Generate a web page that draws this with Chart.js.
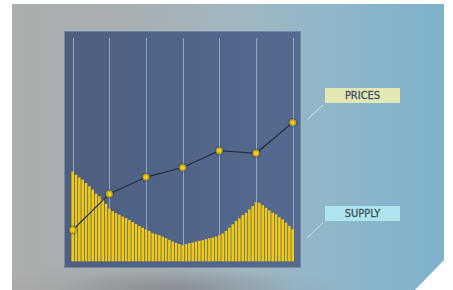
<!DOCTYPE html>
<html>
<head>
<meta charset="utf-8">
<script src="https://cdn.jsdelivr.net/npm/chart.js@4/dist/chart.umd.min.js"></script>
<style>
  html, body { margin:0; padding:0; background:#ffffff; }
  #stage { position:relative; width:453px; height:290px; overflow:hidden; }
  #bg { position:absolute; left:12px; top:4px; width:432px; height:286px;
        clip-path: polygon(0 0, 100% 0, 100% 256px, 403px 286px, 0 286px);
        background:
          radial-gradient(ellipse 120px 20px at 165px 284px, rgba(105,105,115,0.38), rgba(105,105,115,0) 100%),
          radial-gradient(ellipse 200px 34px at 150px 292px, rgba(125,120,120,0.28), rgba(125,120,120,0) 100%),
          linear-gradient(to right, #abadae 0%, #a7afb2 28%, #a2b7c1 52%, #8db6ca 76%, #7db2cb 100%);
  }
  #panel { position:absolute; left:64px; top:31px; width:237px; height:237px; box-sizing:border-box;
           border:1px solid rgba(150,170,200,0.5);
           background: linear-gradient(to right, #4e5f80 0%, #52658a 60%, #566a90 100%); }
  #chartWrap { position:absolute; left:64px; top:31px; width:237px; height:237px; }
  .tag { position:absolute; left:325px; width:75px; height:15px; line-height:15px; text-align:center;
         font-family:"DejaVu Sans Condensed","DejaVu Sans",sans-serif; font-size:11px; color:#3f5064;
         -webkit-text-stroke: 0.3px #3f5064; }
  #tagPrices { top:88px; background:#e3e7b3; }
  #tagSupply { top:206px; background:#b0e4ec; }
  svg { position:absolute; left:0; top:0; }
</style>
</head>
<body>
<div id="stage">
  <div id="bg"></div>
  <div id="panel"></div>
  <div id="chartWrap"><canvas id="c" width="237" height="237"></canvas></div>
  <svg width="453" height="290">
    <line x1="323" y1="105" x2="307" y2="120" stroke="rgba(215,232,240,0.85)" stroke-width="1"/>
    <line x1="323" y1="223" x2="307" y2="238" stroke="rgba(215,232,240,0.85)" stroke-width="1"/>
  </svg>
  <div class="tag" id="tagPrices">PRICES</div>
  <div class="tag" id="tagSupply">SUPPLY</div>
</div>
<script>
// Supply: 67 thin bars (11 per period)
const supply = [
  90, 86.7, 84, 81.7, 78.3, 75, 71.7, 67.7, 65, 61.7, 57.3,
  52.5,
  50, 48, 46.5, 44.5, 43, 41, 39, 37, 35, 33.3,
  31.5,
  30, 27.7, 26.7, 25.7, 24.3, 22.7, 21, 19.3, 18, 16.7,
  15.7,
  16.7, 17.7, 18.3, 19.3, 20, 20.7, 21.7, 22.7, 23.3, 24.3,
  25.7,
  27.3, 30, 33.3, 36.7, 40, 42.7, 46, 48.3, 51.7, 55, 59,
  58.3, 56, 53.3, 50.7, 48.3, 46.7, 44, 41.7, 38.3, 35, 31.7
];
// Prices: one point per period
const prices = [31.3, 67.7, 84.7, 94.3, 111.3, 108.7, 139.7];
const periodLabels = ['P1', 'P2', 'P3', 'P4', 'P5', 'P6', 'P7'];
const barsPerPeriod = 11;

const labels = supply.map((_, i) => i % barsPerPeriod === 0 ? periodLabels[i / barsPerPeriod] : '');
const priceData = supply.map((_, i) => i % barsPerPeriod === 0 ? prices[i / barsPerPeriod] : null);

const periodGrid = {
  id: 'periodGrid',
  beforeDatasetsDraw(chart) {
    const { ctx, chartArea, scales } = chart;
    ctx.save();
    ctx.strokeStyle = 'rgba(165,185,220,0.75)';
    ctx.lineWidth = 1;
    periodLabels.forEach((_, p) => {
      const x = Math.round(scales.x.getPixelForValue(p * barsPerPeriod)) + 0.5;
      ctx.beginPath();
      ctx.moveTo(x, chartArea.top);
      ctx.lineTo(x, chartArea.bottom);
      ctx.stroke();
    });
    ctx.restore();
  }
};

new Chart(document.getElementById('c'), {
  data: {
    labels: labels,
    datasets: [
      {
        type: 'line', label: 'Prices', data: priceData, order: 0, spanGaps: true,
        borderColor: '#262e3e', borderWidth: 1.2, tension: 0,
        pointRadius: 3.4, pointBackgroundColor: '#ffd500',
        pointBorderColor: 'rgba(45,55,85,0.3)', pointBorderWidth: 3,
        clip: false
      },
      {
        type: 'bar', label: 'Supply', data: supply, order: 1,
        backgroundColor: '#f3c90e', borderWidth: 0,
        barThickness: 1.9, clip: false
      }
    ]
  },
  plugins: [periodGrid],
  options: {
    responsive: false, animation: false,
    layout: { padding: { left: 8.7, right: 8.3, top: 6, bottom: 6 } },
    plugins: { legend: { display: false }, tooltip: { enabled: false } },
    scales: {
      x: { display: false, offset: false },
      y: { display: false, min: 0, max: 225 }
    }
  }
});
</script>
</body>
</html>
